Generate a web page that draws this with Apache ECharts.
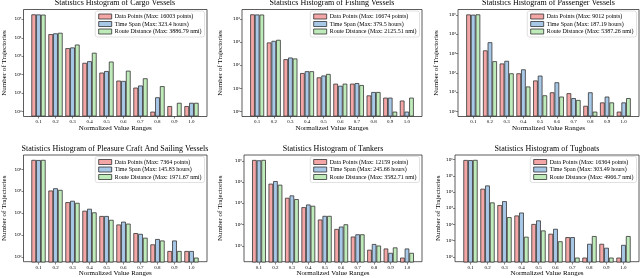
<!DOCTYPE html>
<html><head><meta charset="utf-8">
<script src="https://cdn.jsdelivr.net/npm/echarts@6/dist/echarts.min.js"></script>
<style>html,body{margin:0;padding:0;background:#fff}#c{width:640px;height:278px}</style>
</head><body><div id="c"></div>
<script>
const categories = ['0.1','0.2','0.3','0.4','0.5','0.6','0.7','0.8','0.9','1.0'];
const vesselTypes = ['Cargo Vessels','Fishing Vessels','Passenger Vessels','Pleasure Craft And Sailing Vessels','Tankers','Tugboats'];

const cargoLegend = ['Data Points (Max: 16003 points)','Time Span (Max: 323.4 hours)','Route Distance (Max: 3886.79 nmi)'];
const fishingLegend = ['Data Points (Max: 16674 points)','Time Span (Max: 379.5 hours)','Route Distance (Max: 2125.51 nmi)'];
const passengerLegend = ['Data Points (Max: 9012 points)','Time Span (Max: 187.19 hours)','Route Distance (Max: 5387.26 nmi)'];
const pleasureLegend = ['Data Points (Max: 7364 points)','Time Span (Max: 145.83 hours)','Route Distance (Max: 1971.67 nmi)'];
const tankersLegend = ['Data Points (Max: 12159 points)','Time Span (Max: 245.66 hours)','Route Distance (Max: 3582.71 nmi)'];
const tugboatsLegend = ['Data Points (Max: 16364 points)','Time Span (Max: 303.49 hours)','Route Distance (Max: 4966.7 nmi)'];

const cargoDataPoints    = [186000, 15800, 2750, 440, 130, 48, 20, 1, 2, 2];
const cargoTimeSpan      = [184000, 17400, 3000, 540, 158, 46, 26, 6, null, 3];
const cargoRouteDistance = [180000, 18700, 4300, 1550, 515, 165, 64, 24, 3, 3];

const fishingDataPoints    = [15500, 955, 182, 46, 30, 16, 16, 5, 4, 3];
const fishingTimeSpan      = [15300, 1120, 214, 55, 36, 13, 17, 7, 4, 1];
const fishingRouteDistance = [15200, 1240, 195, 55, 42, 16, 14, 7, 1, 4];

const passengerDataPoints    = [107000, 1480, 310, 96, 41, 10, 9, 2, 3, 1];
const passengerTimeSpan      = [104000, 3900, 425, 154, 73, 33, 5, 10, 6, 3];
const passengerRouteDistance = [108000, 407, 96, 20, 7, 6, 4, 1, 3, 5];

const pleasureDataPoints    = [27700, 1120, 332, 135, 78, 32, 13, 4, 2, 2];
const pleasureTimeSpan      = [27300, 1420, 383, 166, 78, 43, 12, 7, 6, 2];
const pleasureRouteDistance = [27700, 1200, 310, 114, 52, 35, 8, 6, 2, 1];

const tankersDataPoints    = [112000, 8700, 1900, 690, 182, 66, 29, 7, 8, 3];
const tankersTimeSpan      = [108000, 11500, 2450, 920, 270, 85, 37, 13, 5, 8];
const tankersRouteDistance = [113000, 7760, 1650, 800, 270, 109, 37, 11, 9, 5];

const tugboatsDataPoints    = [955000, 16600, 1660, 380, 115, 29, 18, 1, 7, 1];
const tugboatsTimeSpan      = [943000, 26300, 2880, 575, 190, 58, 18, 7, 4, 6];
const tugboatsRouteDistance = [971000, 2400, 302, 19, 46, 10, 1, 21, 1, 21];

const charts = [
  {type: vesselTypes[0], names: cargoLegend, series: [cargoDataPoints, cargoTimeSpan, cargoRouteDistance]},
  {type: vesselTypes[1], names: fishingLegend, series: [fishingDataPoints, fishingTimeSpan, fishingRouteDistance]},
  {type: vesselTypes[2], names: passengerLegend, series: [passengerDataPoints, passengerTimeSpan, passengerRouteDistance]},
  {type: vesselTypes[3], names: pleasureLegend, series: [pleasureDataPoints, pleasureTimeSpan, pleasureRouteDistance]},
  {type: vesselTypes[4], names: tankersLegend, series: [tankersDataPoints, tankersTimeSpan, tankersRouteDistance]},
  {type: vesselTypes[5], names: tugboatsLegend, series: [tugboatsDataPoints, tugboatsTimeSpan, tugboatsRouteDistance]}
];

// layout (axes frames in px)
const frames = [
  {l:23,  r:207, t:9.5, b:116.5, yn:4},
  {l:242, r:422, t:9.5, b:116.5, yn:220},
  {l:458, r:639, t:9.5, b:116.5, yn:436},
  {l:23,  r:207, t:155, b:262.5, yn:4},
  {l:244, r:422, t:155, b:262.5, yn:220},
  {l:455, r:639, t:155, b:262.5, yn:438}
];
const FONT = 'Liberation Serif';
const COLORS = ['#F4A6A6', '#A8C8E8', '#BFEBBA'];
const EDGE = '#333';
const SUP = ['⁰','¹','²','³','⁴','⁵','⁶','⁷','⁸','⁹'];
function logFmt(v) {
  const l = Math.log10(v), r = Math.round(l);
  if (Math.abs(l - r) > 1e-3) return '';
  return '10' + String(r).split('').map(d => SUP[+d]).join('');
}

const option = {animation:false, backgroundColor:'#fff', title:[], legend:[], grid:[], xAxis:[], yAxis:[], series:[]};
const BW = 0.28;
charts.forEach((c, i) => {
  const f = frames[i];
  const W = f.r - f.l, H = f.b - f.t;
  const span = 9 + 3 * BW;
  const ppu = W / (span * 1.1);
  const pad = (0.05 * span + 1.5 * BW - 0.5) * ppu;
  const all = c.series.flat().filter(v => v > 0);
  const lmin = Math.log10(Math.min(...all)), lmax = Math.log10(Math.max(...all));
  const R = lmax - lmin;
  const ymin = Math.pow(10, lmin - 0.05 * R), ymax = Math.pow(10, lmax + 0.05 * R);
  const g0 = option.grid.length;
  option.grid.push({show:true, left:f.l, top:f.t, width:W, height:H, borderColor:EDGE, borderWidth:0.8, backgroundColor:'transparent'});
  option.grid.push({show:false, left:f.l + pad, top:f.t, width:W - 2 * pad, height:H});
  option.xAxis.push({gridIndex:g0, type:'value', min:0, max:1, name:'Normalized Value Ranges', nameLocation:'middle', nameGap:8.3,
    nameTextStyle:{fontFamily:FONT, fontSize:7, color:'#000'}, axisLine:{show:false}, axisTick:{show:false}, axisLabel:{show:false}, splitLine:{show:false}});
  option.yAxis.push({gridIndex:g0, type:'log', logBase:10, min:ymin, max:ymax, splitNumber:10,
    name:'Number of Trajectories', nameLocation:'middle', nameRotate:90, nameGap: f.l - f.yn - 3.5,
    nameTextStyle:{fontFamily:FONT, fontSize:7, color:'#000'},
    axisLine:{show:false}, axisTick:{show:true, length:2, lineStyle:{color:EDGE, width:0.6}},
    axisLabel:{fontFamily:'DejaVu Sans', fontSize:4.2, color:'#000', margin:2, formatter:logFmt, showMinLabel:false, showMaxLabel:false},
    splitLine:{show:false}});
  option.xAxis.push({gridIndex:g0 + 1, type:'category', data:categories, axisLine:{show:false},
    axisTick:{show:true, alignWithLabel:true, length:2, lineStyle:{color:EDGE, width:0.6}},
    axisLabel:{fontFamily:FONT, fontSize:5, color:'#000', margin:3, interval:0}, splitLine:{show:false}});
  option.yAxis.push({gridIndex:g0 + 1, type:'log', logBase:10, min:ymin, max:ymax, startValue:ymin, splitNumber:10, show:false, splitLine:{show:false}});
  option.title.push({text:'Statistics Histogram of ' + c.type, left:(f.l + f.r) / 2, top:f.t - 10.5, textAlign:'center', padding:0,
    textStyle:{fontFamily:FONT, fontSize:8, fontWeight:'normal', color:'#000'}});
  option.legend.push({data:c.names, orient:'vertical', right:640 - f.r + 2.5, top:f.t + 1.5, itemWidth:13, itemHeight:5, itemGap:1.5,
    padding:[2.5, 3, 2.5, 3], borderColor:'#ccc', borderWidth:0.6, borderRadius:2, backgroundColor:'rgba(255,255,255,0.8)',
    icon:'rect', selectedMode:false, itemStyle:{borderColor:EDGE, borderWidth:0.8},
    textStyle:{fontFamily:FONT, fontSize:6, color:'#000', padding:[0,0,0,-2]}});
  c.series.forEach((arr, k) => {
    option.series.push({type:'bar', name:c.names[k], xAxisIndex:g0 + 1, yAxisIndex:g0 + 1,
      data:arr.map(v => (v > 0 ? v : '-')), barWidth:(BW * 100) + '%', barGap:'0%',
      itemStyle:{color:COLORS[k], borderColor:EDGE, borderWidth:0.8}, emphasis:{disabled:true}});
  });
});
const chart = echarts.init(document.getElementById('c'), null, {renderer:'canvas'});
chart.setOption(option);
</script></body></html>
